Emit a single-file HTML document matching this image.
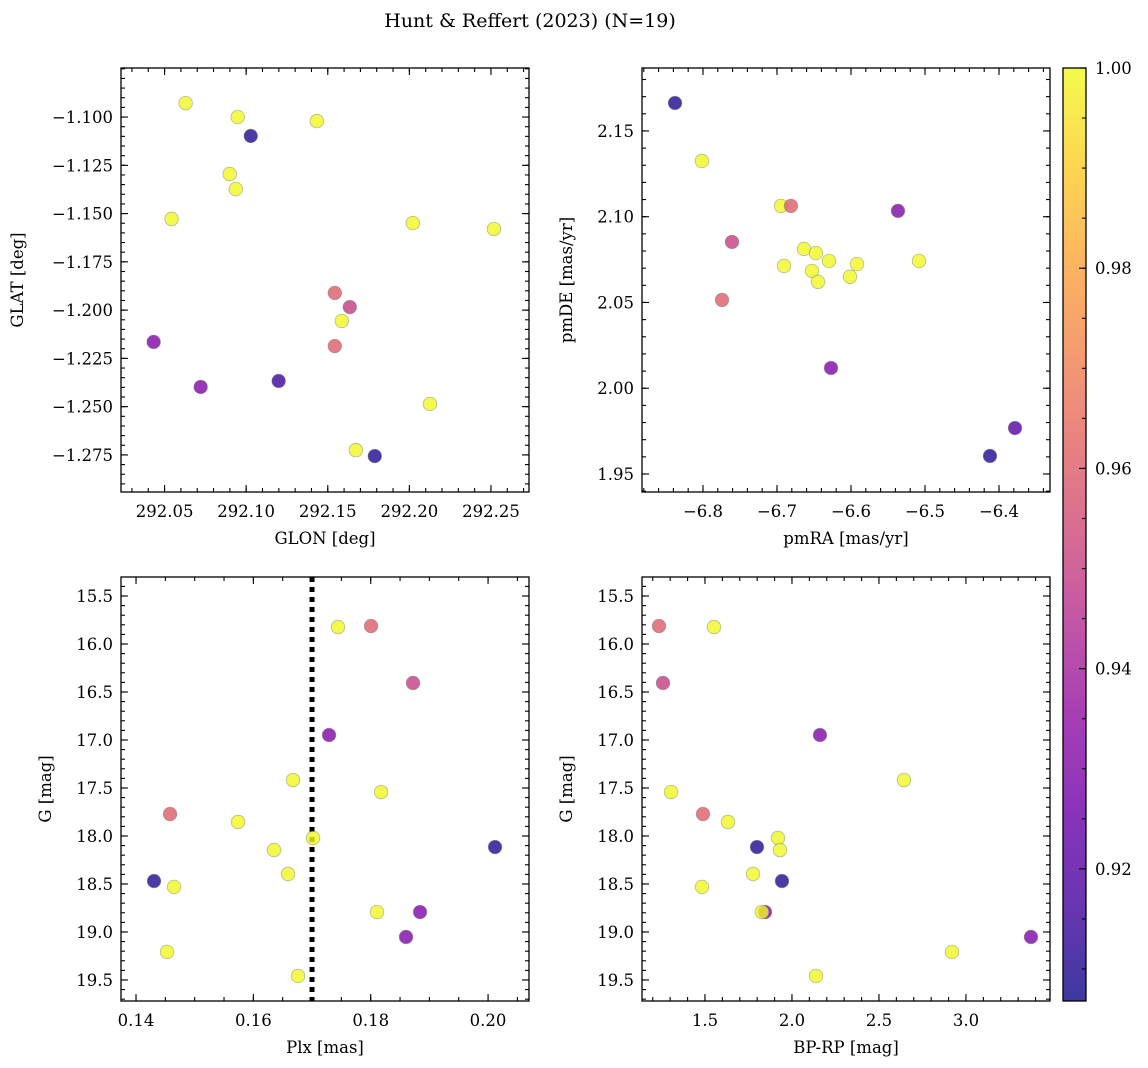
<!DOCTYPE html>
<html><head><meta charset="utf-8">
<style>
html,body{margin:0;padding:0;background:#fff;overflow:hidden;width:1148px;height:1068px;}
svg{display:block;font-family:"DejaVu Serif","Liberation Serif",serif;}
</style></head>
<body>
<svg id="fig" width="1148" height="1068" viewBox="0 0 1148 1068" xmlns="http://www.w3.org/2000/svg">
<defs>
<linearGradient id="plasma" x1="0" y1="1" x2="0" y2="0"></linearGradient>
</defs>
<text x="530" y="27" font-size="19" text-anchor="middle">Hunt &amp; Reffert (2023) (N=19)</text>
</svg>
<script>
// ---- data ----
const p1_glon = [292.0629,292.0948,292.1028,292.1433,292.0899,292.0936,292.0543,292.2021,292.2518,292.1543,292.1635,292.1586,292.1543,292.0433,292.0721,292.1199,292.2126,292.1672,292.1788];
const p1_glat = [-1.0928,-1.1000,-1.1098,-1.1021,-1.1295,-1.1373,-1.1528,-1.1549,-1.1580,-1.1911,-1.1984,-1.2056,-1.2186,-1.2165,-1.2398,-1.2367,-1.2486,-1.2725,-1.2756];
const p1_prob = [1,1,0.91,1,1,1,1,1,1,0.96,0.95,1,0.96,0.93,0.93,0.915,1,1,0.91];

const p2_pmra = [-6.8378,-6.8014,-6.6946,-6.6811,-6.5365,-6.7608,-6.6635,-6.6473,-6.6905,-6.5919,-6.5081,-6.6527,-6.6297,-6.6446,-6.6014,-6.7743,-6.627,-6.3784,-6.4122];
const p2_pmde = [2.1663,2.1325,2.1063,2.1063,2.1034,2.0853,2.0812,2.0788,2.0713,2.0724,2.0742,2.0684,2.0742,2.0620,2.0650,2.0515,2.0118,1.9768,1.9605];
const p2_prob = [0.91,1,1,0.96,0.93,0.95,1,1,1,1,1,1,1,1,1,0.96,0.93,0.92,0.91];

const p3_plx = [0.17443,0.18005,0.18721,0.17290,0.16676,0.18176,0.14580,0.15739,0.17017,0.20119,0.16352,0.16591,0.14307,0.14648,0.18108,0.18841,0.18602,0.14528,0.16761];
const p3_g = [15.823,15.8125,16.406,16.948,17.417,17.542,17.771,17.854,18.021,18.115,18.146,18.396,18.469,18.531,18.792,18.792,19.052,19.208,19.458];
const p3_prob = [1,0.96,0.95,0.93,1,1,0.96,1,1,0.91,1,1,0.91,1,1,0.93,0.93,1,1];

const p4_bprp = [1.2356,1.5517,1.2586,2.1609,2.6437,1.3046,1.4885,1.6322,1.9195,1.7989,1.931,1.7759,1.9425,1.4828,1.8448,1.8276,3.3736,2.9195,2.1379];
const p4_g = [15.8125,15.823,16.406,16.948,17.417,17.542,17.771,17.854,18.021,18.115,18.146,18.396,18.469,18.531,18.792,18.792,19.052,19.208,19.458];
const p4_prob = [0.96,1,0.95,0.93,1,1,0.96,1,1,0.91,1,1,0.91,1,0.93,1,0.93,1,1];

const p1_xticks = [292.05,292.10,292.15,292.20,292.25];
const p1_yticks = [-1.100,-1.125,-1.150,-1.175,-1.200,-1.225,-1.250,-1.275];
const p2_xticks = [-6.8,-6.7,-6.6,-6.5,-6.4];
const p2_yticks = [1.95,2.00,2.05,2.10,2.15];
const p3_xticks = [0.14,0.16,0.18,0.20];
const g_ticks = [15.5,16.0,16.5,17.0,17.5,18.0,18.5,19.0,19.5];
const p4_xticks = [1.5,2.0,2.5,3.0];
const cb_ticks = [0.92,0.94,0.96,0.98,1.00];
const plx_cut = [0.17];

const VMIN = 0.9068, VMAX = 1.0;
const stops = ["#0d0887","#41049d","#6a00a8","#8f0da4","#b12a90","#cc4778","#e16462","#f2844b","#fca636","#fcce25","#f0f921"];
function hex(h){return [parseInt(h.substr(1,2),16),parseInt(h.substr(3,2),16),parseInt(h.substr(5,2),16)];}
function plasma(t){t=Math.max(0,Math.min(1,t));const f=t*10,i=Math.min(9,Math.floor(f)),u=f-i;const a=hex(stops[i]),b=hex(stops[i+1]);
 return 'rgb('+a.map((v,k)=>Math.round(v+(b[k]-v)*u)).join(',')+')';}

const NS="http://www.w3.org/2000/svg";
const svg=document.getElementById('fig');
function mk(tag,attrs,parent){const e=document.createElementNS(NS,tag);for(const k in attrs)e.setAttribute(k,attrs[k]);(parent||svg).appendChild(e);return e;}
function fmt(v,d){return (v<0?'\u2212':'')+Math.abs(v).toFixed(d);}
function minors(r,step){const lo=Math.min(r[0],r[1]),hi=Math.max(r[0],r[1]);const out=[];
 for(let k=Math.ceil(lo/step-1e-9);k*step<=hi+1e-12;k++)out.push(k*step);return out;}
const FS=16.5;

function panel(cfg){
 const g=mk('g',{});
 
 
 const L=cfg.box[0],T=cfg.box[1],R=cfg.box[2],B=cfg.box[3];
 const sx=v=>L+(v-cfg.xr[0])/(cfg.xr[1]-cfg.xr[0])*(R-L);
 const sy=v=>B-(v-cfg.yr[0])/(cfg.yr[1]-cfg.yr[0])*(B-T);
 if(cfg.vline){cfg.vline.forEach(v=>{const l=mk('line',{x1:sx(v),x2:sx(v),y1:T,y2:B,stroke:'#000','stroke-width':5,'stroke-dasharray':'5,5'},g);
  
  });}
 for(let i=0;i<cfg.x.length;i++){
  const t=(cfg.c[i]-VMIN)/(VMAX-VMIN);
  const c=mk('circle',{cx:sx(cfg.x[i]),cy:sy(cfg.y[i]),r:6.8,fill:plasma(t),'fill-opacity':0.8,stroke:'#777','stroke-opacity':0.5,'stroke-width':0.8},g);
  
  
 }
 const f=mk('rect',{x:L,y:T,width:R-L,height:B-T,fill:'none',stroke:'#000','stroke-width':1.3},g);
 
 
 const tk=(x1,y1,x2,y2)=>mk('line',{x1,y1,x2,y2,stroke:'#000','stroke-width':1.1},g);
 minors(cfg.xr,cfg.xm).forEach(v=>{const x=sx(v);tk(x,B,x,B-4);tk(x,T,x,T+4);});
 minors(cfg.yr,cfg.ym).forEach(v=>{const y=sy(v);tk(L,y,L+4,y);tk(R,y,R-4,y);});
 cfg.xt.forEach(v=>{const x=sx(v);tk(x,B,x,B-7);tk(x,T,x,T+7);
  const t=mk('text',{x:x,y:B+25,'font-size':FS,'text-anchor':'middle'},g);t.textContent=fmt(v,cfg.xd);
  
  });
 cfg.yt.forEach(v=>{const y=sy(v);tk(L,y,L+7,y);tk(R,y,R-7,y);
  const t=mk('text',{x:L-8,y:y+6,'font-size':FS,'text-anchor':'end'},g);t.textContent=fmt(v,cfg.yd);
  
  });
 const xl=mk('text',{x:(L+R)/2,y:B+52,'font-size':FS,'text-anchor':'middle'},g);xl.textContent=cfg.xlab;
 
 
 const yl=mk('text',{x:0,y:0,'font-size':FS,'text-anchor':'middle',transform:'translate('+cfg.ylx+','+((T+B)/2)+') rotate(-90)'},g);yl.textContent=cfg.ylab;
 
 
}

panel({name:'glon-glat-panel',box:[121,68,529,492],xr:[292.0233,292.2733],yr:[-1.2942,-1.0746],x:p1_glon,y:p1_glat,c:p1_prob,
 xt:p1_xticks,yt:p1_yticks,xd:2,yd:3,xm:0.01,ym:0.005,xlab:'GLON [deg]',ylab:'GLAT [deg]',ylx:23});
panel({name:'pm-panel',box:[642,68,1050,492],xr:[-6.8824,-6.3311],yr:[1.9395,2.1867],x:p2_pmra,y:p2_pmde,c:p2_prob,
 xt:p2_xticks,yt:p2_yticks,xd:1,yd:2,xm:0.02,ym:0.01,xlab:'pmRA [mas/yr]',ylab:'pmDE [mas/yr]',ylx:572});
panel({name:'plx-g-panel',box:[121,577,529,1001],xr:[0.13744,0.20698],yr:[19.719,15.302],x:p3_plx,y:p3_g,c:p3_prob,
 xt:p3_xticks,yt:g_ticks,xd:2,yd:1,xm:0.005,ym:0.1,xlab:'Plx [mas]',ylab:'G [mag]',ylx:51,vline:plx_cut});
panel({name:'color-mag-panel',box:[642,577,1050,1001],xr:[1.138,3.483],yr:[19.719,15.302],x:p4_bprp,y:p4_g,c:p4_prob,
 xt:p4_xticks,yt:g_ticks,xd:1,yd:1,xm:0.1,ym:0.1,xlab:'BP-RP [mag]',ylab:'G [mag]',ylx:572});

// colorbar
(function(){
 const grad=document.getElementById('plasma');
 for(let i=0;i<=20;i++){mk('stop',{offset:(i/20),'stop-color':plasma(i/20)},grad);}
 const L=1063,R=1086,T=68,B=1001;
 const g=mk('g',{});
 
 
 mk('rect',{x:L,y:T,width:R-L,height:B-T,fill:'url(#plasma)','fill-opacity':0.8},g);
 mk('rect',{x:L,y:T,width:R-L,height:B-T,fill:'none',stroke:'#000','stroke-width':1.3},g);
 const sy=v=>B-(v-VMIN)/(VMAX-VMIN)*(B-T);
 minors([VMIN,VMAX],0.005).forEach(v=>{const y=sy(v);mk('line',{x1:R,x2:R-4,y1:y,y2:y,stroke:'#000','stroke-width':1.1},g);});
 cb_ticks.forEach(v=>{const y=sy(v);mk('line',{x1:R,x2:R-7,y1:y,y2:y,stroke:'#000','stroke-width':1.1},g);
  const t=mk('text',{x:R+9,y:y+6,'font-size':FS},g);t.textContent=v.toFixed(2);
  
  });
})();
</script>
</body></html>
